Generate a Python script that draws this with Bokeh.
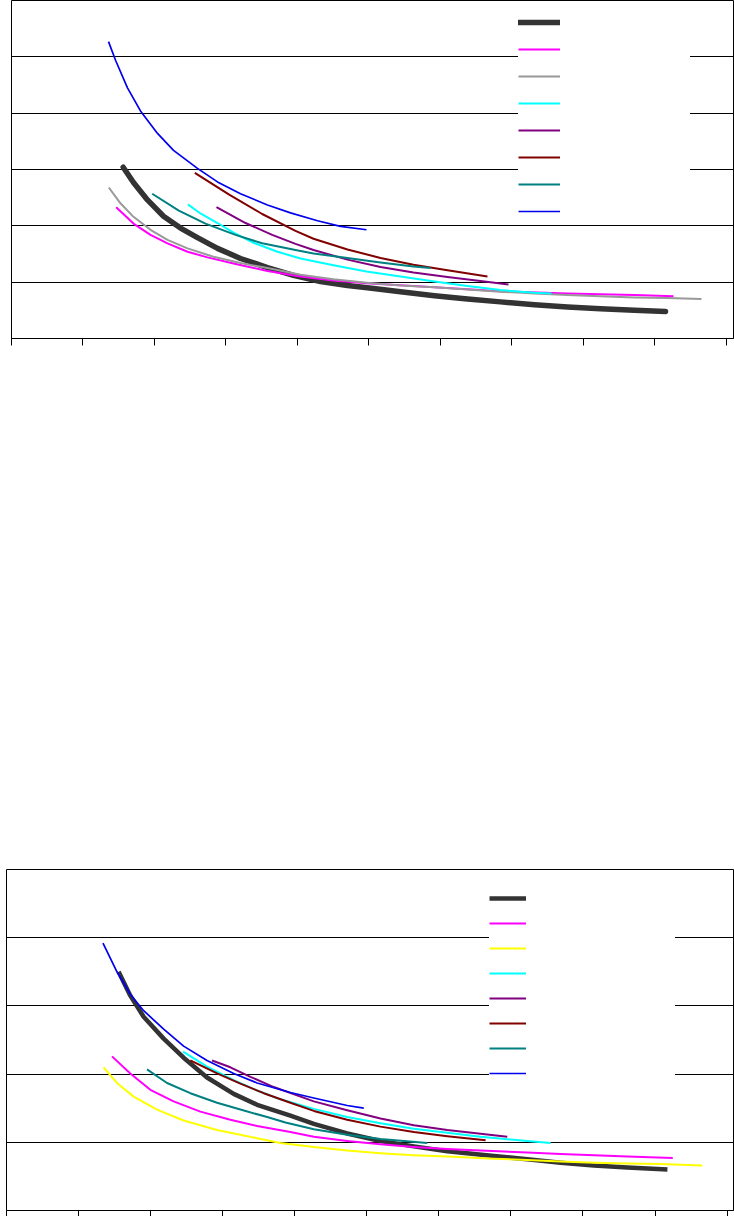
from bokeh.plotting import figure
from bokeh.models import Range1d, FixedTicker, Legend, LegendItem, CustomJSTickFormatter
from bokeh.layouts import column
from bokeh.core.properties import value
from bokeh.embed import file_html
from bokeh.resources import INLINE

# ---------------- top chart data ----------------
top_black_x = [1.562, 1.706, 1.902, 2.126, 2.364, 2.601, 2.881, 3.203, 3.580, 3.944, 4.322, 4.699, 4.979, 5.441, 5.916, 6.378, 6.839, 7.315, 7.776, 8.238, 8.713, 9.147]
top_black_y = [3.04, 2.77, 2.46, 2.17, 1.96, 1.79, 1.60, 1.42, 1.26, 1.12, 1.01, 0.94, 0.90, 0.83, 0.76, 0.70, 0.65, 0.60, 0.56, 0.53, 0.50, 0.48]
top_magenta_x = [1.464, 1.706, 1.944, 2.182, 2.462, 2.741, 3.105, 3.580, 4.042, 4.503, 4.965, 5.916, 6.839, 7.776, 8.713, 9.259]
top_magenta_y = [2.33, 2.04, 1.84, 1.69, 1.54, 1.44, 1.33, 1.20, 1.10, 1.03, 0.98, 0.91, 0.84, 0.80, 0.77, 0.75]
top_gray_x = [1.361, 1.524, 1.706, 1.944, 2.182, 2.462, 2.825, 3.203, 3.580, 4.042, 4.503, 4.965, 5.441, 5.916, 6.378, 6.839, 7.315, 7.776, 8.238, 8.713, 9.175, 9.650]
top_gray_y = [2.68, 2.40, 2.16, 1.93, 1.75, 1.60, 1.45, 1.34, 1.25, 1.13, 1.05, 0.99, 0.94, 0.91, 0.87, 0.83, 0.80, 0.77, 0.75, 0.73, 0.72, 0.70]
top_cyan_x = [2.466, 2.643, 2.881, 3.105, 3.385, 3.720, 4.042, 4.503, 4.965, 5.441, 5.916, 6.378, 6.839, 7.315, 7.552]
top_cyan_y = [2.38, 2.22, 2.05, 1.88, 1.70, 1.54, 1.42, 1.30, 1.19, 1.10, 1.01, 0.93, 0.86, 0.81, 0.80]
top_purple_x = [2.867, 3.273, 3.646, 3.972, 4.224, 4.699, 5.161, 5.622, 6.098, 6.559, 6.951]
top_purple_y = [2.33, 2.05, 1.84, 1.68, 1.57, 1.40, 1.27, 1.17, 1.09, 1.02, 0.96]
top_darkred_x = [2.564, 3.039, 3.506, 3.972, 4.224, 4.699, 5.161, 5.622, 6.098, 6.657]
top_darkred_y = [2.94, 2.56, 2.21, 1.91, 1.77, 1.58, 1.43, 1.31, 1.21, 1.10]
top_teal_x = [1.968, 2.340, 2.713, 3.133, 3.506, 3.972, 4.224, 4.699, 5.161, 5.622, 5.860]
top_teal_y = [2.57, 2.27, 2.04, 1.84, 1.69, 1.57, 1.51, 1.43, 1.35, 1.28, 1.25]
top_blue_x = [1.357, 1.455, 1.622, 1.804, 2.042, 2.266, 2.601, 2.881, 3.203, 3.580, 3.902, 4.280, 4.601, 4.965]
top_blue_y = [5.27, 4.94, 4.45, 4.04, 3.64, 3.34, 3.02, 2.78, 2.57, 2.37, 2.23, 2.09, 1.99, 1.93]

# ---------------- bottom chart data ----------------
bot_black_x = [1.556, 1.718, 1.903, 2.181, 2.458, 2.783, 3.153, 3.478, 3.940, 4.265, 4.728, 5.190, 5.653, 6.117, 6.764, 7.228, 7.690, 8.153, 8.617, 9.172]
bot_black_y = [3.50, 3.15, 2.84, 2.52, 2.24, 1.95, 1.71, 1.55, 1.39, 1.27, 1.13, 1.02, 0.94, 0.87, 0.80, 0.75, 0.70, 0.66, 0.63, 0.60]
bot_magenta_x = [1.464, 1.718, 1.996, 2.319, 2.690, 3.107, 3.478, 3.940, 4.265, 4.728, 5.190, 5.653, 6.117, 6.579, 7.228, 7.690, 8.153, 8.617, 9.246]
bot_magenta_y = [2.26, 2.01, 1.77, 1.60, 1.45, 1.33, 1.24, 1.15, 1.08, 1.02, 0.97, 0.93, 0.90, 0.88, 0.85, 0.83, 0.81, 0.79, 0.77]
bot_yellow_x = [1.347, 1.533, 1.764, 2.089, 2.458, 2.922, 3.478, 3.801, 4.265, 4.728, 5.190, 5.653, 6.117, 6.764, 7.228, 7.690, 8.153, 8.617, 9.079, 9.658]
bot_yellow_y = [2.10, 1.87, 1.67, 1.48, 1.32, 1.18, 1.06, 0.99, 0.93, 0.88, 0.84, 0.81, 0.79, 0.76, 0.74, 0.72, 0.70, 0.69, 0.68, 0.66]
bot_cyan_x = [2.450, 2.783, 3.153, 3.478, 3.801, 4.265, 4.728, 5.190, 5.653, 6.117, 6.579, 7.228, 7.551]
bot_cyan_y = [2.33, 2.11, 1.91, 1.76, 1.63, 1.49, 1.37, 1.28, 1.20, 1.14, 1.08, 1.02, 0.99]
bot_purple_x = [2.853, 3.107, 3.385, 3.709, 4.265, 4.728, 5.190, 5.653, 6.117, 6.950]
bot_purple_y = [2.20, 2.10, 1.96, 1.81, 1.60, 1.47, 1.35, 1.25, 1.18, 1.08]
bot_darkred_x = [2.551, 2.922, 3.246, 3.570, 3.940, 4.265, 4.728, 5.190, 5.653, 6.117, 6.649]
bot_darkred_y = [2.20, 2.01, 1.86, 1.72, 1.58, 1.46, 1.33, 1.23, 1.15, 1.09, 1.03]
bot_teal_x = [1.950, 2.228, 2.551, 2.922, 3.246, 3.617, 3.871, 4.265, 4.728, 5.190, 5.839]
bot_teal_y = [2.07, 1.87, 1.72, 1.58, 1.48, 1.37, 1.29, 1.19, 1.11, 1.05, 0.99]
bot_blue_x = [1.339, 1.533, 1.718, 1.903, 2.181, 2.458, 2.783, 3.153, 3.478, 3.940, 4.265, 4.728, 4.958]
bot_blue_y = [3.92, 3.50, 3.17, 2.93, 2.66, 2.41, 2.20, 2.01, 1.87, 1.73, 1.65, 1.54, 1.50]

x_ticks = [0, 1, 2, 3, 4, 5, 6, 7, 8, 9, 10]
top_y_grid = [1, 2, 3, 4, 5]
bot_y_grid = [1, 2, 3, 4]

BLACK = "#333333"
MAGENTA = "#FF00FF"
GRAY = "#999999"
YELLOW = "#FFFF00"
CYAN = "#00FFFF"
PURPLE = "#800080"
DARKRED = "#800000"
TEAL = "#008080"
BLUE = "#0000EE"


def base_fig(width, height, x_end, y_end, mb_left, mb_top, mb_bottom, ygrid_ticks):
    p = figure(width=width, height=height, output_backend="svg", toolbar_location=None,
               x_range=Range1d(0, x_end), y_range=Range1d(0, y_end),
               y_axis_location=None,
               min_border_left=mb_left, min_border_right=1,
               min_border_top=mb_top, min_border_bottom=mb_bottom)
    p.background_fill_color = "white"
    p.border_fill_color = "white"
    p.outline_line_color = "black"
    p.outline_line_width = 1
    p.xgrid.visible = False
    p.ygrid.ticker = FixedTicker(ticks=ygrid_ticks)
    p.ygrid.grid_line_color = "black"
    p.ygrid.grid_line_width = 1
    ax = p.xaxis[0]
    ax.ticker = FixedTicker(ticks=x_ticks)
    ax.formatter = CustomJSTickFormatter(code="return ''")
    ax.major_label_text_font_size = "0px"
    ax.major_label_standoff = 0
    ax.major_tick_in = 0
    ax.major_tick_out = 7
    ax.minor_tick_in = 0
    ax.minor_tick_out = 0
    ax.axis_line_color = "black"
    ax.major_tick_line_color = "black"
    return p


# ---------------- top chart ----------------
p1 = base_fig(729, 420, 10.098, 6.0, 6, 0, 82, top_y_grid)
p1.styles = {"margin-left": "5px"}
top_series = [
    (top_black_x, top_black_y, BLACK, 5.5, "round"),
    (top_magenta_x, top_magenta_y, MAGENTA, 2, "butt"),
    (top_gray_x, top_gray_y, GRAY, 2, "butt"),
    (top_cyan_x, top_cyan_y, CYAN, 2, "butt"),
    (top_purple_x, top_purple_y, PURPLE, 2, "butt"),
    (top_darkred_x, top_darkred_y, DARKRED, 2, "butt"),
    (top_teal_x, top_teal_y, TEAL, 2, "butt"),
    (top_blue_x, top_blue_y, BLUE, 1.7, "butt"),
]
rend1 = []
for xs, ys, c, w, cap in top_series:
    r = p1.line(xs, ys, line_color=c, line_width=w, line_cap=cap, line_join="round")
    rend1.append(r)
items1 = [LegendItem(label=value(" "), renderers=[r]) for r in rend1]
leg1 = Legend(items=items1, location=(507, 120), padding=6, spacing=13,
              glyph_width=42, glyph_height=14, label_height=14, label_width=125,
              label_standoff=5, label_text_font_size="8px",
              background_fill_color="white", background_fill_alpha=1.0,
              border_line_color=None, margin=0)
p1.add_layout(leg1)

# ---------------- bottom chart ----------------
p2 = base_fig(734, 796, 10.089, 5.0, 6, 449, 6, bot_y_grid)
p2.xaxis[0].major_tick_out = 6
bot_series = [
    (bot_black_x, bot_black_y, BLACK, 4.5),
    (bot_magenta_x, bot_magenta_y, MAGENTA, 2),
    (bot_yellow_x, bot_yellow_y, YELLOW, 2),
    (bot_cyan_x, bot_cyan_y, CYAN, 2),
    (bot_purple_x, bot_purple_y, PURPLE, 2),
    (bot_darkred_x, bot_darkred_y, DARKRED, 2),
    (bot_teal_x, bot_teal_y, TEAL, 2),
    (bot_blue_x, bot_blue_y, BLUE, 1.7),
]
rend2 = []
for xs, ys, c, w in bot_series:
    r = p2.line(xs, ys, line_color=c, line_width=w, line_join="round")
    rend2.append(r)
items2 = [LegendItem(label=value(" "), renderers=[r]) for r in rend2]
leg2 = Legend(items=items2, location=(483, 129), padding=14, spacing=9,
              glyph_width=37, glyph_height=16, label_height=16, label_width=144,
              label_standoff=5, label_text_font_size="8px",
              background_fill_color="white", background_fill_alpha=1.0,
              border_line_color=None, margin=0)
p2.add_layout(leg2)

layout = column(p1, p2, spacing=0)

open("out.html", "w").write(file_html(layout, INLINE))
